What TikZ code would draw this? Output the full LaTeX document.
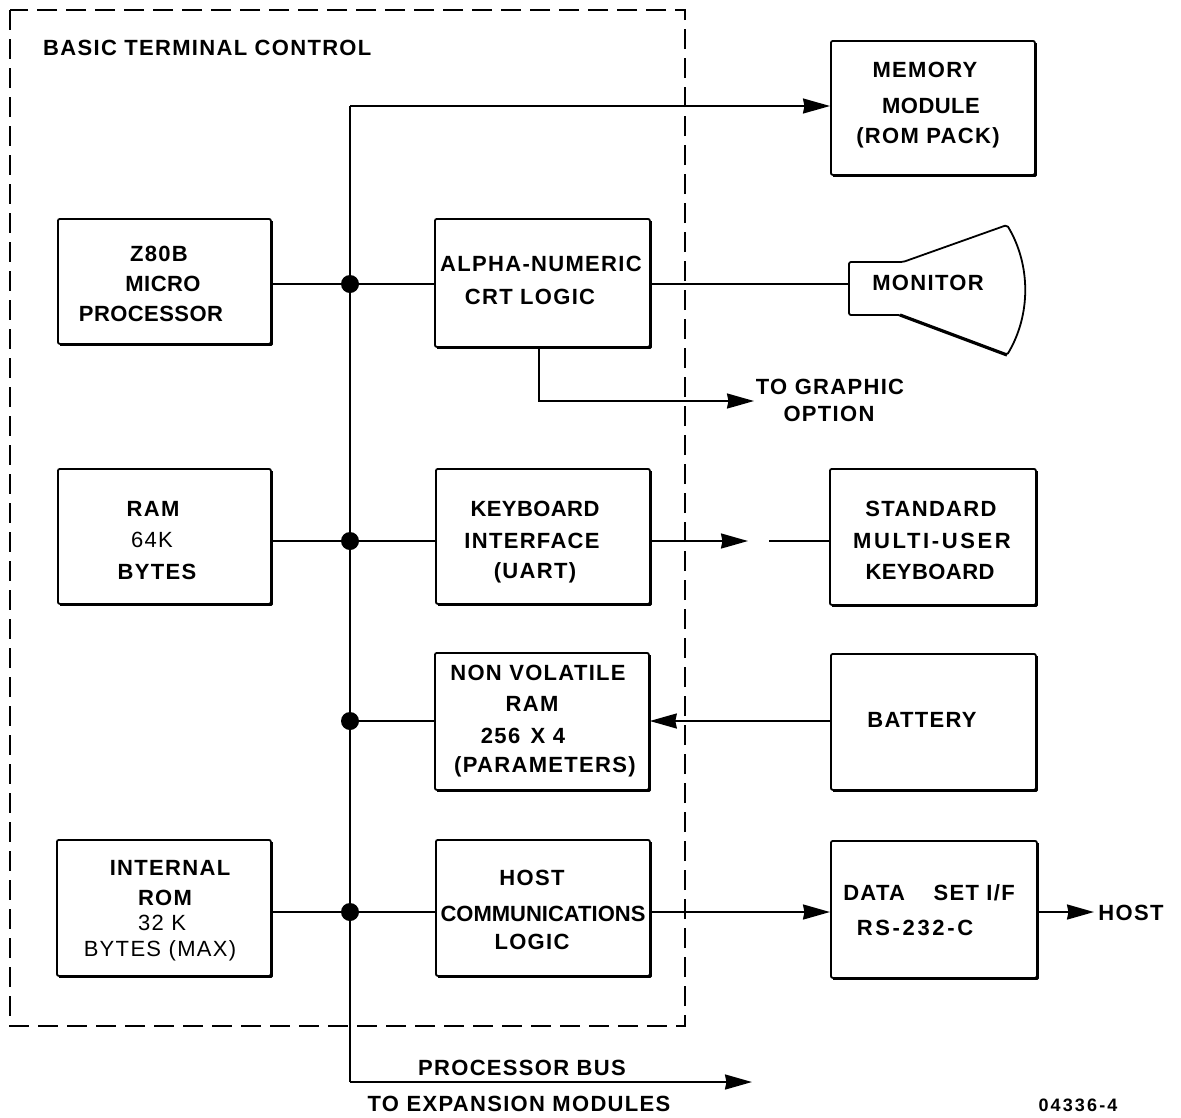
\documentclass[tikz,border=0pt]{standalone}
\usepackage{fontspec}
\setmainfont[LetterSpace=6]{Liberation Sans}
\newfontfamily\tightfont[LetterSpace=2]{Liberation Sans}
\newfontfamily\snugfont{Liberation Sans}
\newfontfamily\widefont[LetterSpace=12]{Liberation Sans}
\usetikzlibrary{arrows.meta}
\tikzset{
 px/.style={x=1pt,y=-1pt},
 blk/.style={draw=black,line width=1.8pt,fill=white,rounded corners=2pt},
 edge/.style={draw=black,line width=3.2pt,line join=round},
 lbl/.style={font=\fontsize{22}{22}\selectfont\bfseries,text=black,inner sep=0pt,align=center},
 lbm/.style={font=\fontsize{22}{22}\selectfont,text=black,inner sep=0pt,align=center},
 tight/.style={font=\tightfont\fontsize{22}{22}\selectfont\bfseries},
 snug/.style={font=\snugfont\fontsize{22}{22}\selectfont\bfseries},
 wide/.style={font=\widefont\fontsize{22}{22}\selectfont\bfseries},
 wire/.style={draw=black,line width=2pt},
 arr/.style={wire,-{Stealth[length=27pt,width=15pt,inset=1.5pt]}},
 dot/.style={circle,fill=black,inner sep=0pt,minimum size=18pt},
 frame/.style={draw=black,line width=1.6pt,dash pattern=on 20pt off 9pt}
}
\newcommand{\blockat}[5]{\node[blk,minimum width=#3pt,minimum height=#4pt,inner sep=0pt,anchor=north west] (#5) at (#1,#2) {};
\draw[edge] ([yshift=-3pt]#5.north east) -- (#5.south east) -- ([xshift=3pt]#5.south west);}
\begin{document}
\begin{tikzpicture}[px]
\useasboundingbox (0,0) rectangle (1181,1117);
\draw[frame] (10,10) rectangle (685,1026);
\blockat{830}{40}{204}{134}{mem}
\blockat{57}{218}{213}{125}{z80}
\blockat{434}{218}{215}{128}{crt}
\blockat{57}{468}{213}{135}{ram}
\blockat{435}{468}{214}{135}{kbd}
\blockat{829}{468}{206}{136}{skb}
\blockat{434}{652}{214}{137}{nv}
\blockat{830}{653}{205}{136}{bat}
\blockat{56}{839}{214}{136}{rom}
\blockat{435}{839}{214}{136}{host}
\blockat{830}{840}{206}{137}{ds}
\draw[blk,line join=round] (849,262) -- (903,262) -- (1007,225) .. controls (1031,265) and (1031,315) .. (1007,355) -- (900,315) -- (849,315) -- cycle;
\draw[edge] (900,315) -- (1007,355);
\node[inner sep=0pt] (mon) at (849,284) {};
\coordinate (bustop) at (350,106);
\coordinate (busbot) at (350,1082);
\coordinate (j1) at (350,284);
\coordinate (j2) at (350,541);
\coordinate (j3) at (350,721);
\coordinate (j4) at (350,912);
\draw[wire] (busbot) -- (bustop);
\draw[arr] (bustop) -- (mem.west |- bustop);
\draw[arr] (busbot) -- (752,1082);
\draw[wire] (z80.east |- j1) -- (crt.west |- j1);
\draw[wire] (ram.east |- j2) -- (kbd.west |- j2);
\draw[wire] (j3) -- (nv.west |- j3);
\draw[wire] (rom.east |- j4) -- (host.west |- j4);
\node[dot] (d1) at (j1) {};
\node[dot] (d2) at (j2) {};
\node[dot] (d3) at (j3) {};
\node[dot] (d4) at (j4) {};
\draw[wire] (crt.east |- mon) -- (mon);
\coordinate (g1) at (539,401);
\draw[arr] (crt.south -| g1) -- (g1) -- (754,401);
\draw[arr] (kbd.east |- j2) -- (748,541);
\draw[wire] (769,541) -- (skb.west |- j2);
\draw[arr] (bat.west |- j3) -- (nv.east |- j3);
\draw[arr] (host.east |- j4) -- (ds.west |- j4);
\coordinate (hostend) at (1094,912);
\draw[arr] (ds.east |- j4) -- (hostend);
\node[lbl,anchor=west] (t0) at (43,48) {BASIC TERMINAL CONTROL};
\node[lbl] (t1) at (925,70) {MEMORY};
\node[lbl,tight] (t2) at (931,106) {MODULE};
\node[lbl] (t3) at (928,138) {(ROM PACK)};
\node[lbl] (t4) at (159,254) {Z80B};
\node[lbl,tight] (t5) at (163,284) {MICRO};
\node[lbl,tight] (t6) at (151,314) {PROCESSOR};
\node[lbl] (t7) at (541,264) {ALPHA-NUMERIC};
\node[lbl] (t8) at (530,297) {CRT LOGIC};
\node[lbl] (t9) at (928,283) {MONITOR};
\node[lbl] (t10) at (830,387) {TO GRAPHIC};
\node[lbl] (t11) at (829,414) {OPTION};
\node[lbl] (t12) at (153,509) {RAM};
\node[lbm] (t13) at (152,540) {64K};
\node[lbl] (t14) at (157,572) {BYTES};
\node[lbl,tight] (t15) at (535,509) {KEYBOARD};
\node[lbl] (t16) at (532,541) {INTERFACE};
\node[lbl] (t17) at (535,573) {(UART)};
\node[lbl] (t18) at (931,509) {STANDARD};
\node[lbl,wide] (t19) at (932,541) {MULTI-USER};
\node[lbl,tight] (t20) at (930,572) {KEYBOARD};
\node[lbl] (t21) at (538,673) {NON VOLATILE};
\node[lbl] (t22) at (532,704) {RAM};
\node[lbl] (t23) at (523,736) {256\hspace{3pt} X 4};
\node[lbl] (t24) at (545,767) {(PARAMETERS)};
\node[lbl] (t25) at (922,720) {BATTERY};
\node[lbl] (t26) at (170,868) {INTERNAL};
\node[lbl] (t27) at (165,898) {ROM};
\node[lbm] (t28) at (162,923) {32 K};
\node[lbm] (t29) at (160,951) {BYTES (MAX)};
\node[lbl] (t30) at (532,878) {HOST};
\node[lbl,snug] (t31) at (543,914) {COMMUNICATIONS};
\node[lbl] (t32) at (532,942) {LOGIC};
\node[lbl] (t33) at (929,893) {DATA\hspace{21pt} SET I/F};
\node[lbl,wide] (t34) at (915,928) {RS-232-C};
\node[lbl] (t35) at (1131,913) {HOST};
\node[lbl] (t36) at (522,1068) {PROCESSOR BUS};
\node[lbl] (t37) at (519,1104) {TO EXPANSION MODULES};
\node[lbl,font=\widefont\fontsize{18}{18}\selectfont\bfseries] (t38) at (1078,1105) {04336-4};
\end{tikzpicture}
\end{document}
